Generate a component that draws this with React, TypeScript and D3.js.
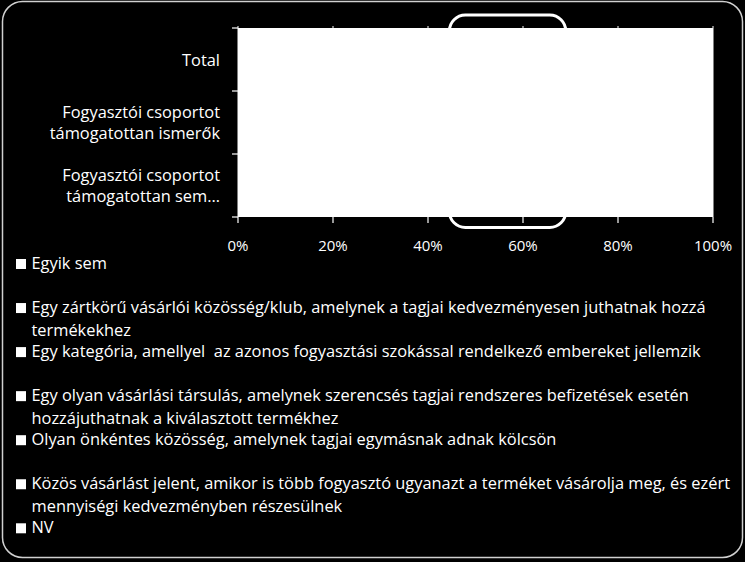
import React, { useRef, useEffect } from 'react';
import * as d3 from 'd3';

const width = 745;
const height = 562;

// categories (top to bottom)
const categories = [
  'Total',
  'Fogyasztói csoportot támogatottan ismerők',
  'Fogyasztói csoportot támogatottan sem…',
];

// series in legend order
const seriesNames = [
  'Egyik sem',
  'Egy zártkörű vásárlói közösség/klub, amelynek a tagjai kedvezményesen juthatnak hozzá termékekhez',
  'Egy kategória, amellyel  az azonos fogyasztási szokással rendelkező embereket jellemzik',
  'Egy olyan vásárlási társulás, amelynek szerencsés tagjai rendszeres befizetések esetén hozzájuthatnak a kiválasztott termékhez',
  'Olyan önkéntes közösség, amelynek tagjai egymásnak adnak kölcsön',
  'Közös vásárlást jelent, amikor is több fogyasztó ugyanazt a terméket vásárolja meg, és ezért mennyiségi kedvezményben részesülnek',
  'NV',
];

// shares per category, one array per series (bars are drawn white on white, so not readable)
const egyikSem = [0.12, 0.08, 0.15];
const zartkoru = [0.18, 0.2, 0.16];
const kategoria = [0.1, 0.09, 0.11];
const tarsulas = [0.08, 0.07, 0.09];
const onkentes = [0.05, 0.04, 0.06];
const kozosVasarlas = [0.42, 0.48, 0.36];
const nv = [0.05, 0.04, 0.07];

const seriesValues = [egyikSem, zartkoru, kategoria, tarsulas, onkentes, kozosVasarlas, nv];

const xTicks = [0, 0.2, 0.4, 0.6, 0.8, 1];
// the rounded frame that marks a region of the value axis
const highlightRange = [0.445, 0.69];

const font = '"Open Sans", sans-serif';

function wrapLines(text: string, maxWidth: number, measure: (s: string) => number) {
  const words = text.split(' ');
  const lines: string[] = [];
  let line = '';
  words.forEach((w) => {
    const test = line === '' ? w : line + ' ' + w;
    if (line !== '' && measure(test) > maxWidth) {
      lines.push(line);
      line = w;
    } else {
      line = test;
    }
  });
  if (line) lines.push(line);
  return lines;
}

const App: React.FC = () => {
  const svgRef = useRef<SVGSVGElement>(null);

  useEffect(() => {
    if (!svgRef.current) return;
    const svg = d3.select(svgRef.current);
    svg.selectAll('*').remove();

    const plot = { left: 238, right: 713, top: 28, bottom: 217 };

    // background and frame
    svg.append('rect')
      .attr('width', width)
      .attr('height', height)
      .attr('fill', '#000');

    svg.append('rect')
      .attr('x', 2.5)
      .attr('y', 1.5)
      .attr('width', 740)
      .attr('height', 556)
      .attr('rx', 20)
      .attr('fill', 'none')
      .attr('stroke', '#d0d0d0')
      .attr('stroke-width', 1.5);

    const xScale = d3.scaleLinear().domain([0, 1]).range([plot.left, plot.right]);
    const yScale = d3.scaleBand()
      .domain(categories)
      .range([plot.top, plot.bottom])
      .paddingInner(0)
      .paddingOuter(0);

    // highlight frame behind the plot area
    svg.append('rect')
      .attr('x', xScale(highlightRange[0]))
      .attr('y', 15)
      .attr('width', xScale(highlightRange[1]) - xScale(highlightRange[0]))
      .attr('height', 212.5)
      .attr('rx', 16)
      .attr('fill', '#000')
      .attr('stroke', '#fff')
      .attr('stroke-width', 3);

    // plot area
    svg.append('rect')
      .attr('x', plot.left)
      .attr('y', plot.top)
      .attr('width', plot.right - plot.left)
      .attr('height', plot.bottom - plot.top)
      .attr('fill', '#fff');

    // gridlines (white)
    svg.append('g')
      .selectAll('line')
      .data(xTicks)
      .enter()
      .append('line')
      .attr('x1', d => xScale(d))
      .attr('x2', d => xScale(d))
      .attr('y1', plot.top - 2)
      .attr('y2', plot.bottom)
      .attr('stroke', '#fff')
      .attr('stroke-width', 1);

    // stacked bars (white fill)
    const rows = categories.map((c, i) => {
      const row: Record<string, number | string> = { category: c };
      seriesNames.forEach((s, j) => { row[s] = seriesValues[j][i]; });
      return row;
    });
    const stack = d3.stack<Record<string, number | string>>()
      .keys(seriesNames)
      .value((d, key) => d[key] as number);
    const stacked = stack(rows);
    const barH = yScale.bandwidth() / 2.5;

    svg.append('g')
      .selectAll('g')
      .data(stacked)
      .enter()
      .append('g')
      .attr('fill', '#fff')
      .selectAll('rect')
      .data(d => d)
      .enter()
      .append('rect')
      .attr('x', d => xScale(d[0]))
      .attr('width', d => xScale(d[1]) - xScale(d[0]))
      .attr('y', d => yScale(d.data.category as string)! + (yScale.bandwidth() - barH) / 2)
      .attr('height', barH);

    // category axis ticks
    const boundaries = [...categories.map(c => yScale(c)!), plot.bottom];
    svg.append('g')
      .selectAll('line')
      .data(boundaries)
      .enter()
      .append('line')
      .attr('x1', plot.left - 6)
      .attr('x2', plot.left)
      .attr('y1', d => d)
      .attr('y2', d => d)
      .attr('stroke', '#fff')
      .attr('stroke-width', 1.2);

    // value axis ticks
    svg.append('g')
      .selectAll('line')
      .data(xTicks)
      .enter()
      .append('line')
      .attr('x1', d => xScale(d))
      .attr('x2', d => xScale(d))
      .attr('y1', plot.bottom)
      .attr('y2', plot.bottom + 6)
      .attr('stroke', '#fff')
      .attr('stroke-width', 1.2);

    svg.append('g')
      .selectAll('text')
      .data(xTicks)
      .enter()
      .append('text')
      .attr('x', d => xScale(d))
      .attr('y', 251)
      .attr('text-anchor', 'middle')
      .attr('font-family', font)
      .attr('font-size', '15px')
      .attr('fill', '#fff')
      .text(d => d3.format('.0%')(d));

    // measuring helper
    const probe = svg.append('text')
      .attr('font-family', font)
      .attr('font-size', '16.4px')
      .attr('visibility', 'hidden');
    const measure = (s: string) => {
      probe.text(s);
      return (probe.node() as SVGTextElement).getComputedTextLength();
    };

    // category labels
    categories.forEach((c) => {
      const lines = wrapLines(c, 185, measure);
      const cy = yScale(c)! + yScale.bandwidth() / 2;
      lines.forEach((ln, k) => {
        svg.append('text')
          .attr('x', 220)
          .attr('y', cy + 6 + (k - (lines.length - 1) / 2) * 21.5)
          .attr('text-anchor', 'end')
          .attr('font-family', font)
          .attr('font-size', '16.4px')
          .attr('fill', '#fff')
          .text(ln);
      });
    });

    // legend
    const legendTop = 269;
    const slot = 44.05;
    seriesNames.forEach((s, i) => {
      const base = legendTop + i * slot;
      svg.append('rect')
        .attr('x', 16)
        .attr('y', base - 10)
        .attr('width', 10)
        .attr('height', 10)
        .attr('fill', '#fff');
      const lines = wrapLines(s, 720, measure);
      lines.forEach((ln, k) => {
        svg.append('text')
          .attr('x', 31.5)
          .attr('y', base + k * 22.7)
          .attr('font-family', font)
          .attr('font-size', '16.4px')
          .attr('fill', '#fff')
          .attr('xml:space', 'preserve')
          .style('white-space', 'pre')
          .text(ln);
      });
    });

    probe.remove();
  }, []);

  return (
    <svg
      ref={svgRef}
      width={width}
      height={height}
      style={{ position: 'absolute', left: 0, top: 0, display: 'block' }}
    />
  );
};

export default App;
